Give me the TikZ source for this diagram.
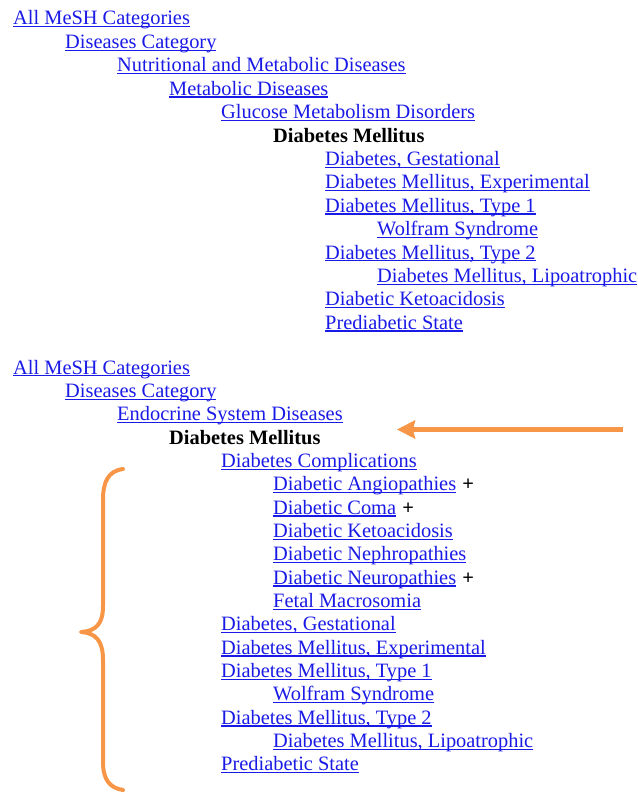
\documentclass[tikz,border=0pt]{standalone}
\usepackage{fontspec}
\setmainfont{Liberation Serif}
\newfontfamily\meshserif{Liberation Serif}
\usepackage{xcolor}
\usepackage{tikz}
\usetikzlibrary{arrows.meta,positioning}
\definecolor{meshBlue}{HTML}{1A1AE6}
\definecolor{meshOrange}{HTML}{F79646}
% underlined link text
\newcommand{\meshul}[1]{\setbox0\hbox{#1}\rlap{\rule[-2.4pt]{\wd0}{1.2pt}}\box0}
\newcommand{\meshfont}{\meshserif\fontsize{20.4}{23.4}\selectfont}
\newcommand{\meshplus}{\hspace{0.3em}\textcolor{black}{\textbf{+}}}

\begin{document}
\begin{tikzpicture}[
    x=1pt, y=-1pt,
    meshlink/.style={anchor=base west, inner sep=0pt, text=meshBlue, font=\meshfont},
    meshterm/.style={anchor=base west, inner sep=0pt, text=black, font=\meshfont\bfseries},
    pointer/.style={-{Stealth[length=18pt,width=18pt,inset=2pt]}, line width=5.5pt, meshOrange},
    bracket/.style={line width=4pt, meshOrange, line cap=round, line join=round}
]
    \useasboundingbox (0,0) rectangle (637,792);

    % Tree from the first category path
    \node[meshlink] (allA) at (13,25) {\meshul{All MeSH Categories}};
    \node[meshlink] (disA) at (65,48.4) {\meshul{Diseases Category}};
    \node[meshlink] (nutr) at (117,71.8) {\meshul{Nutritional and Metabolic Diseases}};
    \node[meshlink] (meta) at (169,95.2) {\meshul{Metabolic Diseases}};
    \node[meshlink] (gluc) at (221,118.6) {\meshul{Glucose Metabolism Disorders}};
    \node[meshterm] (dmA) at (273,142) {Diabetes Mellitus};
    \node[meshlink] (gestA) at (325,165.4) {\meshul{Diabetes, Gestational}};
    \node[meshlink] (expA) at (325,188.8) {\meshul{Diabetes Mellitus, Experimental}};
    \node[meshlink] (typeoneA) at (325,212.2) {\meshul{Diabetes Mellitus, Type 1}};
    \node[meshlink] (wolfA) at (377,235.6) {\meshul{Wolfram Syndrome}};
    \node[meshlink] (typetwoA) at (325,259) {\meshul{Diabetes Mellitus, Type 2}};
    \node[meshlink] (lipoA) at (377,282.4) {\meshul{Diabetes Mellitus, Lipoatrophic}};
    \node[meshlink] (ketoA) at (325,305.8) {\meshul{Diabetic Ketoacidosis}};
    \node[meshlink] (prediA) at (325,329.2) {\meshul{Prediabetic State}};

    % Tree from the second category path
    \node[meshlink] (allB) at (13,374) {\meshul{All MeSH Categories}};
    \node[meshlink] (disB) at (65,397.35) {\meshul{Diseases Category}};
    \node[meshlink] (endo) at (117,420.7) {\meshul{Endocrine System Diseases}};
    \node[meshterm] (dmB) at (169,444.05) {Diabetes Mellitus};
    \node[meshlink] (compl) at (221,467.4) {\meshul{Diabetes Complications}};
    \node[meshlink] (angio) at (273,490.75) {\meshul{Diabetic Angiopathies}\meshplus};
    \node[meshlink] (coma) at (273,514.1) {\meshul{Diabetic Coma}\meshplus};
    \node[meshlink] (ketoB) at (273,537.45) {\meshul{Diabetic Ketoacidosis}};
    \node[meshlink] (nephro) at (273,560.8) {\meshul{Diabetic Nephropathies}};
    \node[meshlink] (neuro) at (273,584.15) {\meshul{Diabetic Neuropathies}\meshplus};
    \node[meshlink] (fetal) at (273,607.5) {\meshul{Fetal Macrosomia}};
    \node[meshlink] (gestB) at (221,630.85) {\meshul{Diabetes, Gestational}};
    \node[meshlink] (expB) at (221,654.2) {\meshul{Diabetes Mellitus, Experimental}};
    \node[meshlink] (typeoneB) at (221,677.55) {\meshul{Diabetes Mellitus, Type 1}};
    \node[meshlink] (wolfB) at (273,700.9) {\meshul{Wolfram Syndrome}};
    \node[meshlink] (typetwoB) at (221,724.25) {\meshul{Diabetes Mellitus, Type 2}};
    \node[meshlink] (lipoB) at (273,747.6) {\meshul{Diabetes Mellitus, Lipoatrophic}};
    \node[meshlink] (prediB) at (221,770.95) {\meshul{Prediabetic State}};

    % Orange pointer
    \coordinate (ptrStart) at (623,429.5);
    \coordinate (ptrTip) at (397,429.5);
    \draw[pointer] (ptrStart) -- (ptrTip);

    % Orange brace
    \draw[bracket] (123,469) .. controls (108,471) and (103,482) .. (103,500)
        -- (103,606) .. controls (103,624) and (96,631) .. (81,632)
        .. controls (96,633) and (103,641) .. (103,660)
        -- (103,762) .. controls (103,780) and (110,788) .. (123,790);
\end{tikzpicture}
\end{document}
